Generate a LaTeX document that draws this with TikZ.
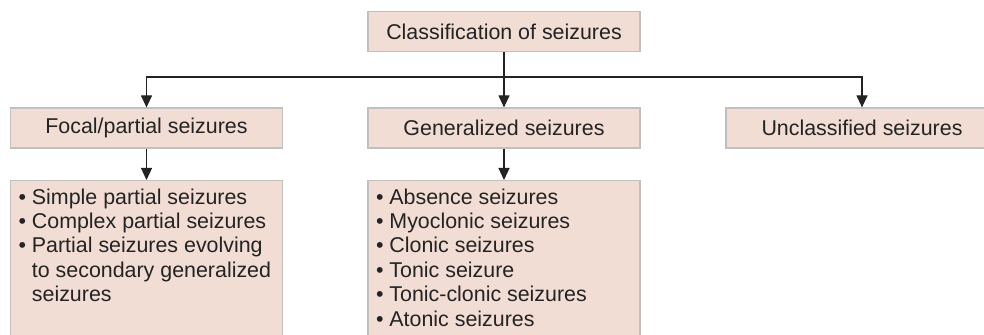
\documentclass[tikz,border=0pt]{standalone}
\usepackage{fontspec}
\setmainfont{Liberation Sans}
\usetikzlibrary{arrows.meta,calc}
\definecolor{boxfill}{RGB}{242,221,213}
\definecolor{boxline}{RGB}{192,192,192}
\definecolor{ink}{RGB}{35,35,35}
\tikzset{%
  classbox/.style = {shape=rectangle, draw=boxline, fill=boxfill,%
                     line width=0.6pt, text=ink, align=center,%
                     minimum width=136pt, minimum height=20pt},%
  listbox/.style  = {classbox, anchor=north, inner xsep=3.5pt,%
                     inner ysep=4pt},%
  link/.style     = {draw=ink, line width=0.6pt,%
                     -{Triangle[width=5.5pt,length=6pt]}}%
}
\newcommand{\itm}{\textbullet\ }
\newcommand{\cnt}{\hphantom{\textbullet\ }}
\newcommand{\listtext}[1]{\parbox[t][78pt][t]{128pt}{\raggedright #1}}

\begin{document}
\begin{tikzpicture}[x=0.5pt,y=-0.5pt,%
    every node/.style = {font=\fontsize{10.7}{12.2}\selectfont}]%
	\useasboundingbox (0,0) rectangle (984,335);
	\clip (0,0) rectangle (984,335);
	% top of the tree
	\node [classbox] (root) at (504,31.5) {Classification of seizures};%
	\coordinate (split) at (504,77);%
	% the three kinds
	\node [classbox] (focal) at (146.5,128) {Focal/partial seizures};%
	\node [classbox] (gen)   at (504,128)   {Generalized seizures};%
	\node [classbox] (uncl)  at (862,128)   {Unclassified seizures};%
	% the lists below
	\node [listbox] (focallist) at (146.5,180) {\listtext{%
		\itm Simple partial seizures\\
		\itm Complex partial seizures\\
		\itm Partial seizures evolving\\
		\cnt to secondary generalized\\
		\cnt seizures}};%
	\node [listbox] (genlist) at (504,180) {\listtext{%
		\itm Absence seizures\\
		\itm Myoclonic seizures\\
		\itm Clonic seizures\\
		\itm Tonic seizure\\
		\itm Tonic-clonic seizures\\
		\itm Atonic seizures}};%
	% connectors
	\draw [link] (root.south) -- (gen.north);%
	\draw [link] (split) -| (focal.north);%
	\draw [link] (split) -| (uncl.north);%
	\draw [link] (focal.south) -- (focallist.north);%
	\draw [link] (gen.south) -- (genlist.north);%
\end{tikzpicture}
\end{document}
